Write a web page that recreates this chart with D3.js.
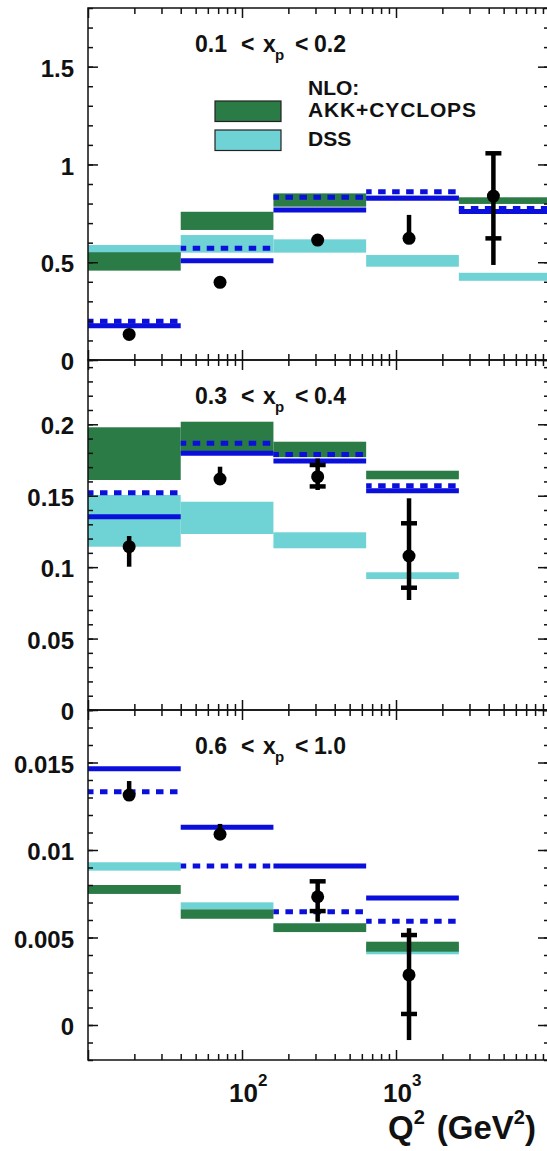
<!DOCTYPE html>
<html>
<head>
<meta charset="utf-8">
<script src="https://cdn.jsdelivr.net/npm/d3@7"></script>
<style>
  html, body { margin: 0; padding: 0; background: #fff; }
  svg { display: block; font-family: "Liberation Sans", Arial, Helvetica, sans-serif; }
</style>
</head>
<body>
<svg id="chart" width="547" height="1151"></svg>
<script>
// ---- Q² binning (GeV²) and mean Q² of the measured points ----
const binEdges = [10, 40, 160, 640, 2560, 10240];
const q2Mean = [18.5, 72, 310, 1215, 4290];

// ---- x_p ranges of the three panels ----
const xpRanges = [["0.1", "0.2"], ["0.3", "0.4"], ["0.6", "1.0"]];

// ---- y tick labels of each panel ----
const yTicks1 = [0, 0.5, 1, 1.5];
const yTicks2 = [0, 0.05, 0.1, 0.15, 0.2];
const yTicks3 = [0, 0.005, 0.01, 0.015];

// ---- panel 1: 0.1 < x_p < 0.2 ----
const meas1 = [0.131, 0.397, 0.613, 0.622, 0.838];
const totLo1 = [0.131, 0.397, 0.613, 0.622, 0.486];
const totHi1 = [0.131, 0.397, 0.613, 0.742, 1.057];
const statLo1 = [null, null, null, null, 0.622];
const statHi1 = [null, null, null, null, 1.057];
const akkLo1 = [0.457, 0.665, 0.784, 0.820, 0.798];
const akkHi1 = [0.551, 0.758, 0.852, 0.840, 0.832];
const dssLo1 = [0.530, 0.549, 0.549, 0.477, 0.405];
const dssHi1 = [0.588, 0.639, 0.617, 0.537, 0.446];
const solid1 = [0.175, 0.508, 0.767, 0.827, 0.760];
const dashed1 = [0.198, 0.571, 0.832, 0.860, 0.775];

// ---- panel 2: 0.3 < x_p < 0.4 ----
const meas2 = [0.1143, 0.1617, 0.1633, 0.1078];
const totLo2 = [0.1003, 0.1617, 0.1540, 0.0770];
const totHi2 = [0.1218, 0.1703, 0.1760, 0.1482];
const statLo2 = [null, null, 0.1565, 0.0856];
const statHi2 = [null, null, 0.1715, 0.1307];
const akkLo2 = [0.1610, 0.1790, 0.1770, 0.1615];
const akkHi2 = [0.1979, 0.2018, 0.1878, 0.1675];
const dssLo2 = [0.1143, 0.1232, 0.1132, 0.0917];
const dssHi2 = [0.1505, 0.1458, 0.1244, 0.0964];
const solid2 = [0.1353, 0.1797, 0.1743, 0.1535];
const dashed2 = [0.1521, 0.1867, 0.1788, 0.1570];

// ---- panel 3: 0.6 < x_p < 1.0 ----
const meas3 = [0.01314, 0.01090, 0.00733, 0.00286];
const totLo3 = [0.01314, 0.01090, 0.00590, -0.00086];
const totHi3 = [0.01394, 0.01149, 0.00829, 0.00553];
const statLo3 = [null, null, 0.00651, 0.00063];
const statHi3 = [null, null, 0.00821, 0.00514];
const akkLo3 = [0.00749, 0.00607, 0.00531, 0.00419];
const akkHi3 = [0.00800, 0.00661, 0.00581, 0.00476];
const dssLo3 = [0.00882, 0.00661, 0.00540, 0.00404];
const dssHi3 = [0.00930, 0.00701, 0.00580, 0.00460];
const solid3 = [0.01465, 0.01130, 0.00909, 0.00726];
const dashed3 = [0.01333, 0.00909, 0.00647, 0.00593];

// ---- legend entries ----
const legendHeader = "NLO:";
const legendNames = ["AKK+CYCLOPS", "DSS"];

// ---- colours ----
const AKK_COLOR = "#2b7b46";
const DSS_COLOR = "#6fd3d6";
const BLUE = "#0b0fdc";

function bins(meas, totLo, totHi, statLo, statHi, akkLo, akkHi, dssLo, dssHi, solid, dashed) {
  return meas.map((v, i) => ({
    lo: binEdges[i], hi: binEdges[i + 1], q2: q2Mean[i], v,
    totLo: totLo[i], totHi: totHi[i], statLo: statLo[i], statHi: statHi[i],
    akkLo: akkLo[i], akkHi: akkHi[i], dssLo: dssLo[i], dssHi: dssHi[i],
    solid: solid[i], dashed: dashed[i]
  }));
}

const panels = [
  { xp: xpRanges[0], top: 8, bottom: 360, domain: [0, 1.8], ticks: yTicks1, minorStep: 0.1,
    rows: bins(meas1, totLo1, totHi1, statLo1, statHi1, akkLo1, akkHi1, dssLo1, dssHi1, solid1, dashed1) },
  { xp: xpRanges[1], top: 360, bottom: 710, domain: [0, 0.245], ticks: yTicks2, minorStep: 0.01,
    rows: bins(meas2, totLo2, totHi2, statLo2, statHi2, akkLo2, akkHi2, dssLo2, dssHi2, solid2, dashed2) },
  { xp: xpRanges[2], top: 710, bottom: 1060, domain: [-0.002, 0.018], ticks: yTicks3, minorStep: 0.001,
    rows: bins(meas3, totLo3, totHi3, statLo3, statHi3, akkLo3, akkHi3, dssLo3, dssHi3, solid3, dashed3) }
];

const LEFT = 88, RIGHT = 550;
const svg = d3.select("#chart");
const x = d3.scaleLog().domain([10, 10000]).range([LEFT, RIGHT]);

const xMajor = [10, 100, 1000, 10000];
const xMinor = d3.range(1, 4).flatMap(k => d3.range(2, 10).map(m => m * Math.pow(10, k)));

function styleAxis(g) {
  g.select(".domain").remove();
  g.selectAll(".tick line").attr("stroke", "#111").attr("stroke-width", 1.5);
}

panels.forEach((p, pi) => {
  const y = d3.scaleLinear().domain(p.domain).range([p.bottom, p.top]);
  const g = svg.append("g");

  const clipId = "clip" + pi;
  svg.append("clipPath").attr("id", clipId)
    .append("rect").attr("x", LEFT).attr("y", p.top)
    .attr("width", RIGHT - LEFT).attr("height", p.bottom - p.top);

  const plot = g.append("g").attr("clip-path", `url(#${clipId})`);

  // DSS bands
  plot.selectAll("rect.dss").data(p.rows).join("rect")
    .attr("class", "dss")
    .attr("x", d => x(d.lo)).attr("width", d => x(d.hi) - x(d.lo))
    .attr("y", d => y(d.dssHi)).attr("height", d => y(d.dssLo) - y(d.dssHi))
    .attr("fill", DSS_COLOR);

  // AKK+CYCLOPS bands
  plot.selectAll("rect.akk").data(p.rows).join("rect")
    .attr("class", "akk")
    .attr("x", d => x(d.lo)).attr("width", d => x(d.hi) - x(d.lo))
    .attr("y", d => y(d.akkHi)).attr("height", d => y(d.akkLo) - y(d.akkHi))
    .attr("fill", AKK_COLOR);

  // solid blue predictions
  plot.selectAll("line.solid").data(p.rows).join("line")
    .attr("class", "solid")
    .attr("x1", d => x(d.lo)).attr("x2", d => x(d.hi))
    .attr("y1", d => y(d.solid)).attr("y2", d => y(d.solid))
    .attr("stroke", BLUE).attr("stroke-width", 5);

  // dashed blue predictions
  plot.selectAll("line.dashed").data(p.rows).join("line")
    .attr("class", "dashed")
    .attr("x1", d => x(d.lo)).attr("x2", d => x(d.hi))
    .attr("y1", d => y(d.dashed)).attr("y2", d => y(d.dashed))
    .attr("stroke", BLUE).attr("stroke-width", 5)
    .attr("stroke-dasharray", "7.5 6.5").attr("stroke-dashoffset", 2);

  // error bars: full line, then ticks marking the inner error
  plot.selectAll("line.err").data(p.rows).join("line")
    .attr("class", "err")
    .attr("x1", d => x(d.q2)).attr("x2", d => x(d.q2))
    .attr("y1", d => y(d.totLo)).attr("y2", d => y(d.totHi))
    .attr("stroke", "#000").attr("stroke-width", 4.5);

  const caps = p.rows.flatMap(d => d.statLo == null ? [] : [{ q2: d.q2, v: d.statLo }, { q2: d.q2, v: d.statHi }]);
  plot.selectAll("line.cap").data(caps).join("line")
    .attr("class", "cap")
    .attr("x1", d => x(d.q2) - 8).attr("x2", d => x(d.q2) + 8)
    .attr("y1", d => y(d.v)).attr("y2", d => y(d.v))
    .attr("stroke", "#000").attr("stroke-width", 4.5);

  // measured points
  plot.selectAll("circle.pt").data(p.rows).join("circle")
    .attr("class", "pt")
    .attr("cx", d => x(d.q2)).attr("cy", d => y(d.v)).attr("r", 6.5)
    .attr("fill", "#000");

  // frame
  g.append("rect").attr("x", LEFT).attr("y", p.top)
    .attr("width", RIGHT - LEFT).attr("height", p.bottom - p.top)
    .attr("fill", "none").attr("stroke", "#111").attr("stroke-width", 1.5);

  // y axes (ticks pointing inward)
  const yMinor = d3.range(p.domain[0], p.domain[1] + p.minorStep / 2, p.minorStep);
  g.append("g").attr("transform", `translate(${LEFT},0)`)
    .call(d3.axisLeft(y).tickValues(yMinor).tickSize(-5).tickSizeOuter(0).tickFormat(""))
    .call(styleAxis);
  g.append("g").attr("transform", `translate(${LEFT},0)`)
    .call(d3.axisLeft(y).tickValues(p.ticks).tickSize(-10).tickSizeOuter(0).tickPadding(14)
      .tickFormat(d => String(d)))
    .call(styleAxis)
    .call(a => a.selectAll("text")
      .attr("font-family", '"Liberation Sans", Arial, sans-serif')
      .attr("font-size", 24).attr("font-weight", "bold").attr("fill", "#111")
      .attr("dy", "0.4em"));
  g.append("g").attr("transform", `translate(${RIGHT},0)`)
    .call(d3.axisRight(y).tickValues(yMinor).tickSize(-6).tickSizeOuter(0).tickFormat(""))
    .call(styleAxis);
  g.append("g").attr("transform", `translate(${RIGHT},0)`)
    .call(d3.axisRight(y).tickValues(p.ticks).tickSize(-12).tickSizeOuter(0).tickFormat(""))
    .call(styleAxis);

  // x axes, top and bottom, ticks pointing inward
  [[p.top, d3.axisTop], [p.bottom, d3.axisBottom]].forEach(([yy, axisFn]) => {
    g.append("g").attr("transform", `translate(0,${yy})`)
      .call(axisFn(x).tickValues(xMinor).tickSize(-6).tickSizeOuter(0).tickFormat(""))
      .call(styleAxis);
    g.append("g").attr("transform", `translate(0,${yy})`)
      .call(axisFn(x).tickValues(xMajor).tickSize(-10).tickSizeOuter(0).tickFormat(""))
      .call(styleAxis);
  });

  // x_p range label
  const ty = p.top + 44;
  const title = g.append("g").attr("font-size", 23).attr("font-weight", "bold").attr("fill", "#111");
  title.append("text").attr("x", 195).attr("y", ty).text(p.xp[0]);
  title.append("text").attr("x", 241).attr("y", ty).text("<");
  title.append("text").attr("x", 263).attr("y", ty).text("x");
  title.append("text").attr("x", 275).attr("y", ty + 8).attr("font-size", 15).text("p");
  title.append("text").attr("x", 295).attr("y", ty).text("<");
  title.append("text").attr("x", 314).attr("y", ty).text(p.xp[1]);

  // x tick labels on the lowest panel
  if (pi === panels.length - 1) {
    [[100, "2"], [1000, "3"]].forEach(([v, e]) => {
      const t = g.append("text").attr("x", x(v) - 13).attr("y", 1102)
        .attr("font-size", 26).attr("font-weight", "bold").attr("fill", "#111");
      t.append("tspan").text("10");
      t.append("tspan").attr("dy", -16).attr("font-size", 17).text(e);
    });
  }
});

// legend in the first panel
const legend = svg.append("g").attr("font-size", 21).attr("font-weight", "bold").attr("fill", "#111");
legend.append("text").attr("x", 308).attr("y", 95).text(legendHeader);
[[AKK_COLOR, 101, 117], [DSS_COLOR, 130, 146]].forEach(([c, by, ty], i) => {
  legend.append("rect").attr("x", 215).attr("y", by).attr("width", 66).attr("height", 20.5)
    .attr("fill", c).attr("stroke", "#222").attr("stroke-width", 1.2);
  legend.append("text").attr("x", 308).attr("y", ty).attr("textLength", i === 0 ? 168 : null)
    .text(legendNames[i]);
});

// x axis title
const xt = svg.append("text").attr("x", 388).attr("y", 1139)
  .attr("font-size", 33).attr("font-weight", "bold").attr("fill", "#111");
xt.append("tspan").text("Q");
xt.append("tspan").attr("dy", -15).attr("font-size", 20).text("2");
xt.append("tspan").attr("dy", 15).attr("dx", 12).text("(GeV");
xt.append("tspan").attr("dy", -15).attr("font-size", 20).text("2");
xt.append("tspan").attr("dy", 15).text(")");
</script>
</body>
</html>
